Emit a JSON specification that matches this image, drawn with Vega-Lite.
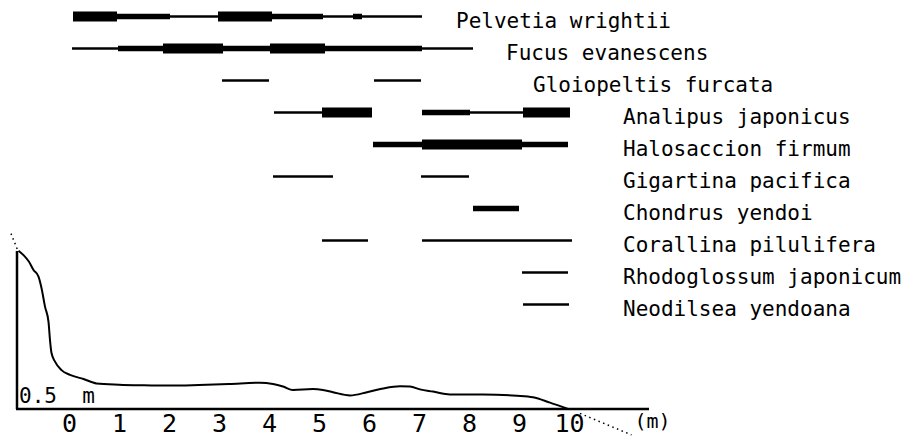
{
  "$schema": "https://vega.github.io/schema/vega-lite/v6.json",
  "width": 908,
  "height": 441,
  "autosize": {"type": "none"},
  "padding": 0,
  "background": "white",
  "config": {"view": {"stroke": null}},
  "datasets": {
    "segments": [
      {"species": "Pelvetia wrightii", "x": 0.08, "x_end": 0.96, "weight": "thick"},
      {"species": "Pelvetia wrightii", "x": 0.96, "x_end": 2.02, "weight": "medium"},
      {"species": "Pelvetia wrightii", "x": 2.02, "x_end": 2.98, "weight": "thin"},
      {"species": "Pelvetia wrightii", "x": 2.98, "x_end": 4.06, "weight": "thick"},
      {"species": "Pelvetia wrightii", "x": 4.06, "x_end": 5.08, "weight": "medium"},
      {"species": "Pelvetia wrightii", "x": 5.08, "x_end": 7.06, "weight": "thin"},
      {"species": "Pelvetia wrightii", "x": 5.68, "x_end": 5.86, "weight": "medium"},
      {"species": "Fucus evanescens", "x": 0.06, "x_end": 0.98, "weight": "thin"},
      {"species": "Fucus evanescens", "x": 0.98, "x_end": 1.88, "weight": "medium"},
      {"species": "Fucus evanescens", "x": 1.88, "x_end": 3.08, "weight": "thick"},
      {"species": "Fucus evanescens", "x": 3.08, "x_end": 4.02, "weight": "medium"},
      {"species": "Fucus evanescens", "x": 4.02, "x_end": 5.12, "weight": "thick"},
      {"species": "Fucus evanescens", "x": 5.12, "x_end": 7.06, "weight": "medium"},
      {"species": "Fucus evanescens", "x": 7.06, "x_end": 8.08, "weight": "thin"},
      {"species": "Gloiopeltis furcata", "x": 3.06, "x_end": 4.0, "weight": "thin"},
      {"species": "Gloiopeltis furcata", "x": 6.1, "x_end": 7.04, "weight": "thin"},
      {"species": "Analipus japonicus", "x": 4.1, "x_end": 5.06, "weight": "thin"},
      {"species": "Analipus japonicus", "x": 5.06, "x_end": 6.06, "weight": "thick"},
      {"species": "Analipus japonicus", "x": 7.06, "x_end": 8.02, "weight": "medium"},
      {"species": "Analipus japonicus", "x": 8.02, "x_end": 9.08, "weight": "thin"},
      {"species": "Analipus japonicus", "x": 9.08, "x_end": 10.02, "weight": "thick"},
      {"species": "Halosaccion firmum", "x": 6.08, "x_end": 7.06, "weight": "medium"},
      {"species": "Halosaccion firmum", "x": 7.06, "x_end": 9.06, "weight": "thick"},
      {"species": "Halosaccion firmum", "x": 9.06, "x_end": 9.98, "weight": "medium"},
      {"species": "Gigartina pacifica", "x": 4.08, "x_end": 5.28, "weight": "thin"},
      {"species": "Gigartina pacifica", "x": 7.04, "x_end": 8.0, "weight": "thin"},
      {"species": "Chondrus yendoi", "x": 8.08, "x_end": 9.0, "weight": "medium"},
      {"species": "Corallina pilulifera", "x": 5.06, "x_end": 5.98, "weight": "thin"},
      {"species": "Corallina pilulifera", "x": 7.06, "x_end": 10.06, "weight": "thin"},
      {"species": "Rhodoglossum japonicum", "x": 9.06, "x_end": 9.98, "weight": "thin"},
      {"species": "Neodilsea yendoana", "x": 9.08, "x_end": 10.0, "weight": "thin"}
    ],
    "labels": [
      {"species": "Pelvetia wrightii", "x": 7.74},
      {"species": "Fucus evanescens", "x": 8.74},
      {"species": "Gloiopeltis furcata", "x": 9.28},
      {"species": "Analipus japonicus", "x": 11.08},
      {"species": "Halosaccion firmum", "x": 11.08},
      {"species": "Gigartina pacifica", "x": 11.08},
      {"species": "Chondrus yendoi", "x": 11.08},
      {"species": "Corallina pilulifera", "x": 11.08},
      {"species": "Rhodoglossum japonicum", "x": 11.08},
      {"species": "Neodilsea yendoana", "x": 11.08}
    ],
    "profile": [
      {"x": -1.01, "h": 0.501}, {"x": -0.91, "h": 0.487}, {"x": -0.8, "h": 0.466},
      {"x": -0.71, "h": 0.44}, {"x": -0.61, "h": 0.419}, {"x": -0.55, "h": 0.383},
      {"x": -0.48, "h": 0.324}, {"x": -0.41, "h": 0.276}, {"x": -0.38, "h": 0.218},
      {"x": -0.35, "h": 0.177}, {"x": -0.28, "h": 0.15}, {"x": -0.15, "h": 0.123},
      {"x": 0.02, "h": 0.108}, {"x": 0.29, "h": 0.095}, {"x": 0.55, "h": 0.081},
      {"x": 1.0, "h": 0.077}, {"x": 1.5, "h": 0.075}, {"x": 2.0, "h": 0.074},
      {"x": 2.6, "h": 0.076}, {"x": 3.2, "h": 0.079}, {"x": 3.82, "h": 0.083},
      {"x": 4.08, "h": 0.079}, {"x": 4.28, "h": 0.071}, {"x": 4.48, "h": 0.06},
      {"x": 4.88, "h": 0.063}, {"x": 5.08, "h": 0.06}, {"x": 5.28, "h": 0.053},
      {"x": 5.62, "h": 0.043}, {"x": 5.96, "h": 0.053}, {"x": 6.28, "h": 0.065},
      {"x": 6.62, "h": 0.072}, {"x": 6.82, "h": 0.071}, {"x": 7.02, "h": 0.062},
      {"x": 7.28, "h": 0.055}, {"x": 7.62, "h": 0.046}, {"x": 8.28, "h": 0.046},
      {"x": 8.96, "h": 0.042}, {"x": 9.28, "h": 0.037}, {"x": 9.62, "h": 0.02},
      {"x": 9.98, "h": 0.0}
    ],
    "frame": [
      {"part": "vertical", "x": -1.04, "x_end": -1.04, "h": 0, "h_end": 0.5},
      {"part": "baseline", "x": -1.06, "x_end": 11.6, "h": 0, "h_end": 0}
    ],
    "dotted": [
      {"part": "landward", "x": -1.16, "x_end": -1.02, "h": 0.555, "h_end": 0.5},
      {"part": "seaward", "x": 10.22, "x_end": 11.25, "h": -0.014, "h_end": -0.082}
    ],
    "notes": [
      {"x": -1.0, "h": 0.019, "label": "0.5\u00a0\u00a0m"}
    ]
  },
  "encoding": {
    "x": {
      "field": "x",
      "type": "quantitative",
      "scale": {"domain": [-1.38, 16.78], "nice": false, "zero": false},
      "axis": {
        "values": [0, 1, 2, 3, 4, 5, 6, 7, 8, 9, 10, 11.66],
        "labelExpr": "datum.value > 11 ? '(m)' : datum.label",
        "domain": false,
        "ticks": false,
        "tickSize": 0,
        "grid": false,
        "title": null,
        "offset": -32,
        "labelPadding": 2,
        "labelFont": "DejaVu Sans Mono",
        "labelFontSize": {"condition": {"test": "datum.value > 11", "value": 20}, "value": 25},
        "labelColor": "black",
        "labelFlush": false,
        "labelOverlap": false
      }
    }
  },
  "layer": [
    {
      "data": {"name": "profile"},
      "mark": {"type": "line", "color": "black", "strokeWidth": 2, "interpolate": "monotone"},
      "encoding": {
        "y": {"field": "h", "type": "quantitative", "scale": {"domain": [-0.1013, 1.2943], "nice": false, "zero": false}, "axis": null}
      }
    },
    {
      "data": {"name": "frame"},
      "mark": {"type": "rule", "color": "black", "strokeWidth": 2.5},
      "encoding": {
        "x2": {"field": "x_end"},
        "y": {"field": "h", "type": "quantitative", "scale": {"domain": [-0.1013, 1.2943], "nice": false, "zero": false}, "axis": null},
        "y2": {"field": "h_end"}
      }
    },
    {
      "data": {"name": "dotted"},
      "mark": {"type": "rule", "color": "black", "strokeWidth": 1.5, "strokeDash": [1.5, 3.5]},
      "encoding": {
        "x2": {"field": "x_end"},
        "y": {"field": "h", "type": "quantitative", "scale": {"domain": [-0.1013, 1.2943], "nice": false, "zero": false}, "axis": null},
        "y2": {"field": "h_end"}
      }
    },
    {
      "data": {"name": "notes"},
      "mark": {"type": "text", "align": "left", "baseline": "alphabetic", "font": "DejaVu Sans Mono", "fontSize": 21, "color": "black"},
      "encoding": {
        "y": {"field": "h", "type": "quantitative", "scale": {"domain": [-0.1013, 1.2943], "nice": false, "zero": false}, "axis": null},
        "text": {"field": "label"}
      }
    },
    {
      "data": {"name": "segments"},
      "mark": {"type": "rule", "color": "black", "strokeCap": "butt"},
      "encoding": {
        "x2": {"field": "x_end"},
        "y": {
          "field": "species", "type": "nominal",
          "scale": {"type": "point", "padding": 0, "range": [16.5, 304.5],
            "domain": ["Pelvetia wrightii", "Fucus evanescens", "Gloiopeltis furcata", "Analipus japonicus", "Halosaccion firmum", "Gigartina pacifica", "Chondrus yendoi", "Corallina pilulifera", "Rhodoglossum japonicum", "Neodilsea yendoana"]},
          "axis": null
        },
        "size": {"field": "weight", "type": "nominal", "scale": {"type": "ordinal", "domain": ["thin", "medium", "thick"], "range": [2.5, 5.5, 10]}, "legend": null}
      }
    },
    {
      "data": {"name": "labels"},
      "mark": {"type": "text", "align": "left", "baseline": "alphabetic", "dy": 11, "font": "DejaVu Sans Mono", "fontSize": 21, "color": "black"},
      "encoding": {
        "y": {
          "field": "species", "type": "nominal",
          "scale": {"type": "point", "padding": 0, "range": [16.5, 304.5],
            "domain": ["Pelvetia wrightii", "Fucus evanescens", "Gloiopeltis furcata", "Analipus japonicus", "Halosaccion firmum", "Gigartina pacifica", "Chondrus yendoi", "Corallina pilulifera", "Rhodoglossum japonicum", "Neodilsea yendoana"]},
          "axis": null
        },
        "text": {"field": "species"}
      }
    }
  ],
  "resolve": {"scale": {"y": "independent"}}
}
